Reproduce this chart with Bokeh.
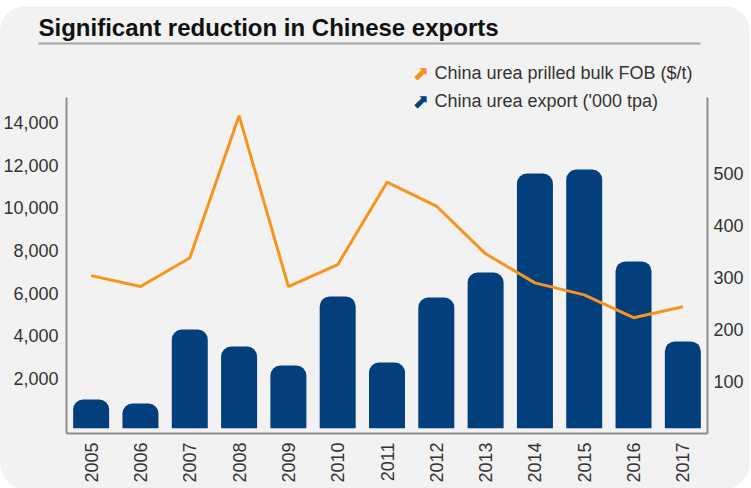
from bokeh.plotting import figure
from bokeh.models import (Range1d, LinearAxis, FixedTicker, BoxAnnotation, Label,
                          FactorRange, NumeralTickFormatter)
from bokeh.layouts import column
from bokeh.embed import file_html
from bokeh.resources import INLINE
import math

# ---- data ----
years = ["2005", "2006", "2007", "2008", "2009", "2010", "2011",
         "2012", "2013", "2014", "2015", "2016", "2017"]
exports = [1020, 830, 4300, 3500, 2610, 5850, 2750,
           5800, 6970, 11610, 11800, 7490, 3740]          # '000 tpa
price = [304, 283, 338, 612, 283, 325, 484,
         438, 346, 290, 267, 223, 244]                   # $/t
left_ticks = [2000, 4000, 6000, 8000, 10000, 12000, 14000]
right_ticks = [100, 200, 300, 400, 500]

title_text = "Significant reduction in Chinese exports"
legend_price = "China urea prilled bulk FOB ($/t)"
legend_export = "China urea export ('000 tpa)"

NAVY = "#033f7d"
ORANGE = "#f7941d"
GREY = "#8e8e8e"
TXT = "#333333"
FONT = "Liberation Sans"
PANEL = "#f2f2f2"

BAR_BASE = -330
LEFT_AXIS = (-575, 15175)
RIGHT_AXIS = (0, 647)


def unalign(fig):
    try:
        fig.frame_align = False
    except Exception:
        pass


# ---------------- header (title) ----------------
h = figure(width=748, height=44, x_range=Range1d(0, 748), y_range=Range1d(44, 0),
           x_axis_type=None, y_axis_type=None, min_border=0,
           output_backend="svg", toolbar_location=None,
           background_fill_color=PANEL, border_fill_color=PANEL)
h.outline_line_color = None
h.grid.visible = False
unalign(h)
h.add_layout(Label(x=38, y=21, x_units="canvas", y_units="canvas",
                   text=title_text, text_font=FONT, text_font_style="bold",
                   text_font_size="24px", text_color="#111111",
                   text_baseline="middle", text_align="left"))
h.add_layout(BoxAnnotation(left=38, right=700, top=36, bottom=38,
                           left_units="canvas", right_units="canvas",
                           top_units="canvas", bottom_units="canvas",
                           fill_color="#a3a3a3", fill_alpha=1, line_color=None,
                           editable=False))

# ---------------- main chart ----------------
p = figure(x_range=FactorRange(*years), y_range=Range1d(-575, 17378),
           frame_width=641, frame_height=383,
           min_border_left=64, min_border_right=43,
           min_border_top=0, min_border_bottom=56,
           output_backend="svg", toolbar_location=None,
           background_fill_color=PANEL, border_fill_color=PANEL)
p.outline_line_color = None
p.grid.visible = False
unalign(p)

p.extra_y_ranges = {"price": Range1d(0, 737.5)}

p.vbar(x=years, top=exports, bottom=BAR_BASE, width=0.73,
       fill_color=NAVY, line_color=None, border_radius=(10, 10, 0, 0))
p.line(x=years, y=price, y_range_name="price", line_color=ORANGE,
       line_width=3)

yl = p.yaxis[0]
yl.ticker = FixedTicker(ticks=left_ticks)
yl.formatter = NumeralTickFormatter(format="0,0")
yl.bounds = LEFT_AXIS

yr = LinearAxis(y_range_name="price", ticker=FixedTicker(ticks=right_ticks),
                bounds=RIGHT_AXIS)
p.add_layout(yr, "right")

xa = p.xaxis[0]
for ax in [yl, yr, xa]:
    ax.axis_line_color = GREY
    ax.axis_line_width = 2
    ax.major_tick_line_color = None
    ax.minor_tick_line_color = None
    ax.major_tick_out = 0
    ax.major_tick_in = 0
    ax.minor_tick_out = 0
    ax.major_label_text_font = FONT
    ax.major_label_text_font_size = "18px"
    ax.major_label_text_color = TXT
    ax.major_label_standoff = 8
yr.major_label_standoff = 6
xa.major_label_orientation = math.pi / 2
xa.major_label_standoff = 9

# legend (inside the frame, above the plotting area)
for yy, col, txt in [(22, ORANGE, legend_price), (50, NAVY, legend_export)]:
    p.add_layout(Label(x=412, y=yy, x_units="canvas", y_units="canvas",
                       text="\u2b08", text_font="DejaVu Sans",
                       text_font_size="20px", text_color=col,
                       text_baseline="middle", text_align="left"))
    p.add_layout(Label(x=434, y=yy, x_units="canvas", y_units="canvas",
                       text=txt, text_font=FONT, text_font_size="18px",
                       text_color=TXT, text_baseline="middle",
                       text_align="left"))

layout = column(h, p, spacing=0,
                styles={"margin-top": "6px", "border-radius": "26px",
                        "overflow": "hidden", "background-color": PANEL})

open("out.html", "w").write(file_html(layout, INLINE))
